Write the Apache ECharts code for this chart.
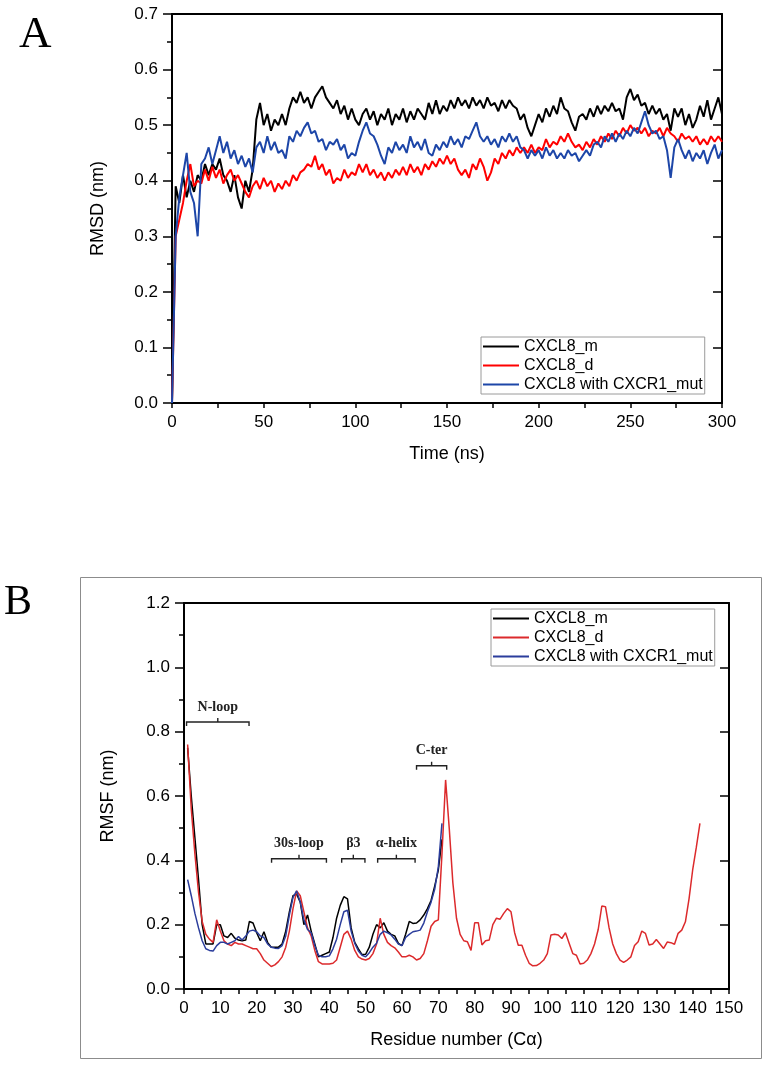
<!DOCTYPE html>
<html><head><meta charset="utf-8">
<script src="https://cdn.jsdelivr.net/npm/echarts@6/dist/echarts.min.js"></script>
<style>html,body{margin:0;padding:0;background:#fff}#chart{width:767px;height:1065px}</style>
</head><body><div id="chart"></div>
<script>
// ---------- Panel A: RMSD vs time (sampled every 2 ns) ----------
const timeNs = Array.from({length: 151}, (_, i) => i * 2);
const rmsdM = [0.00,0.39,0.36,0.41,0.37,0.40,0.38,0.41,0.40,0.43,
 0.41,0.43,0.42,0.44,0.41,0.40,0.38,0.41,0.37,0.35,
 0.40,0.38,0.42,0.51,0.54,0.50,0.52,0.49,0.51,0.50,
 0.52,0.50,0.53,0.55,0.54,0.56,0.54,0.55,0.53,0.55,
 0.56,0.57,0.55,0.54,0.53,0.545,0.52,0.535,0.51,0.53,
 0.51,0.50,0.52,0.53,0.51,0.525,0.50,0.52,0.51,0.53,
 0.50,0.52,0.51,0.53,0.505,0.525,0.51,0.53,0.52,0.51,
 0.54,0.52,0.545,0.52,0.535,0.525,0.545,0.53,0.55,0.535,
 0.545,0.53,0.55,0.535,0.545,0.53,0.55,0.535,0.54,0.525,
 0.545,0.53,0.545,0.535,0.53,0.51,0.52,0.495,0.48,0.50,
 0.52,0.505,0.53,0.515,0.535,0.52,0.55,0.53,0.525,0.505,
 0.49,0.515,0.52,0.51,0.53,0.515,0.535,0.52,0.535,0.525,
 0.54,0.525,0.53,0.51,0.55,0.565,0.545,0.555,0.535,0.54,
 0.52,0.535,0.52,0.53,0.51,0.52,0.49,0.53,0.515,0.53,
 0.50,0.52,0.495,0.51,0.535,0.515,0.545,0.51,0.53,0.55,
 0.52];
const rmsdD = [0.00,0.30,0.33,0.36,0.40,0.43,0.39,0.40,0.395,0.42,
 0.40,0.425,0.405,0.42,0.395,0.41,0.42,0.40,0.41,0.395,
 0.38,0.37,0.39,0.40,0.385,0.405,0.39,0.40,0.38,0.395,
 0.385,0.40,0.39,0.41,0.40,0.415,0.42,0.43,0.425,0.445,
 0.42,0.43,0.41,0.42,0.395,0.405,0.40,0.42,0.405,0.415,
 0.41,0.43,0.415,0.43,0.41,0.42,0.405,0.415,0.40,0.415,
 0.405,0.42,0.41,0.425,0.41,0.43,0.415,0.425,0.41,0.43,
 0.42,0.435,0.425,0.44,0.43,0.445,0.43,0.44,0.42,0.41,
 0.42,0.405,0.43,0.42,0.44,0.425,0.40,0.415,0.44,0.43,
 0.45,0.44,0.455,0.445,0.46,0.45,0.46,0.45,0.465,0.45,
 0.46,0.455,0.475,0.46,0.47,0.465,0.48,0.47,0.485,0.47,
 0.46,0.465,0.455,0.47,0.46,0.475,0.465,0.48,0.47,0.485,
 0.475,0.49,0.48,0.495,0.485,0.50,0.49,0.495,0.485,0.495,
 0.48,0.49,0.485,0.495,0.48,0.495,0.485,0.48,0.47,0.485,
 0.475,0.48,0.47,0.48,0.465,0.475,0.465,0.48,0.47,0.48,
 0.47];
const rmsdMut = [0.00,0.30,0.37,0.41,0.45,0.38,0.36,0.30,0.43,0.44,
 0.46,0.43,0.455,0.48,0.45,0.47,0.44,0.455,0.43,0.445,
 0.425,0.44,0.415,0.46,0.47,0.45,0.48,0.455,0.47,0.45,
 0.455,0.44,0.48,0.47,0.49,0.48,0.495,0.505,0.485,0.49,
 0.47,0.475,0.455,0.47,0.465,0.475,0.455,0.465,0.44,0.45,
 0.445,0.47,0.49,0.505,0.485,0.48,0.465,0.445,0.43,0.46,
 0.45,0.47,0.455,0.465,0.45,0.48,0.46,0.47,0.455,0.475,
 0.45,0.445,0.465,0.455,0.47,0.46,0.48,0.465,0.475,0.46,
 0.48,0.475,0.49,0.505,0.48,0.47,0.48,0.465,0.475,0.46,
 0.48,0.47,0.485,0.47,0.48,0.46,0.455,0.44,0.455,0.445,
 0.455,0.44,0.46,0.445,0.455,0.44,0.45,0.44,0.455,0.445,
 0.45,0.435,0.445,0.455,0.445,0.465,0.47,0.46,0.48,0.47,
 0.485,0.47,0.485,0.475,0.49,0.48,0.495,0.485,0.505,0.525,
 0.50,0.485,0.49,0.475,0.48,0.455,0.405,0.46,0.475,0.455,
 0.44,0.455,0.435,0.45,0.44,0.455,0.43,0.45,0.465,0.44,
 0.455];

// ---------- Panel B: RMSF per residue (residues start at 1) ----------
const rmsfM = [0.75,0.60,0.47,0.34,0.20,0.14,0.14,0.14,0.20,0.20,
 0.165,0.16,0.173,0.158,0.152,0.15,0.152,0.21,0.205,0.175,
 0.15,0.178,0.145,0.13,0.13,0.13,0.14,0.18,0.24,0.29,
 0.295,0.27,0.20,0.23,0.18,0.14,0.10,0.105,0.11,0.115,
 0.16,0.22,0.26,0.287,0.28,0.19,0.145,0.125,0.107,0.108,
 0.13,0.17,0.20,0.19,0.206,0.18,0.17,0.165,0.142,0.135,
 0.17,0.21,0.204,0.205,0.215,0.23,0.25,0.275,0.32,0.37,
 0.465];
const rmsfD = [0.76,0.56,0.42,0.30,0.21,0.17,0.155,0.145,0.215,0.18,
 0.15,0.14,0.135,0.145,0.14,0.14,0.135,0.13,0.125,0.125,
 0.11,0.09,0.08,0.07,0.075,0.085,0.10,0.13,0.18,0.25,
 0.305,0.29,0.24,0.19,0.165,0.12,0.085,0.078,0.078,0.078,
 0.08,0.09,0.13,0.17,0.18,0.155,0.12,0.10,0.093,0.09,
 0.095,0.11,0.14,0.22,0.17,0.145,0.135,0.128,0.115,0.10,
 0.10,0.105,0.10,0.09,0.095,0.11,0.15,0.195,0.21,0.215,
 0.42,0.65,0.50,0.33,0.22,0.17,0.15,0.147,0.12,0.206,
 0.206,0.137,0.15,0.152,0.20,0.22,0.217,0.235,0.25,0.24,
 0.175,0.136,0.136,0.105,0.08,0.072,0.073,0.08,0.09,0.11,
 0.168,0.17,0.168,0.157,0.175,0.142,0.11,0.105,0.078,0.08,
 0.09,0.11,0.14,0.185,0.258,0.256,0.19,0.14,0.11,0.09,
 0.083,0.09,0.10,0.135,0.147,0.18,0.173,0.137,0.14,0.154,
 0.14,0.126,0.146,0.144,0.139,0.173,0.183,0.209,0.28,0.37,
 0.44,0.515];
const rmsfMut = [0.34,0.29,0.235,0.19,0.15,0.125,0.12,0.118,0.135,0.145,
 0.145,0.14,0.145,0.15,0.163,0.152,0.165,0.18,0.183,0.178,
 0.165,0.16,0.14,0.13,0.127,0.126,0.135,0.165,0.23,0.285,
 0.305,0.27,0.215,0.185,0.175,0.135,0.105,0.10,0.10,0.103,
 0.125,0.155,0.20,0.24,0.245,0.18,0.142,0.118,0.105,0.10,
 0.113,0.13,0.142,0.17,0.18,0.175,0.168,0.155,0.14,0.135,
 0.16,0.17,0.178,0.18,0.183,0.205,0.24,0.27,0.31,0.38,
 0.515];

// Structural region brackets: [from residue, to residue, RMSF level]
const regionNames = ['N-loop', '30s-loop', '\u03b23', '\u03b1-helix', 'C-ter'];
const regionFrom  = [0.7, 24.1, 43.4, 53.3, 64.0];
const regionTo    = [17.9, 39.2, 49.8, 63.6, 72.3];
const regionLevel = [0.83, 0.405, 0.405, 0.405, 0.694];

const seriesNames = ['CXCL8_m', 'CXCL8_d', 'CXCL8 with CXCR1_mut'];
const colorsA = ['#000000', '#ff0000', '#1d46a8'];
const colorsB = ['#000000', '#dc2a2c', '#2b3d9c'];

const FONT = '"Liberation Sans", Arial, sans-serif';
const pairs = (xs, ys) => ys.map((v, i) => [xs[i], v]);
const resPairs = ys => ys.map((v, i) => [i + 1, v]);

function bottomAxis(gi, min, max, interval, name) {
  return {
    type: 'value', gridIndex: gi, position: 'bottom', min, max, interval,
    name, nameLocation: 'middle', nameGap: 42,
    nameTextStyle: {fontFamily: FONT, fontSize: 18, color: '#000'},
    axisLine: {show: true, onZero: false, lineStyle: {color: '#000', width: 2}},
    axisTick: {show: true, inside: false, length: 5, lineStyle: {color: '#000', width: 1.5}},
    minorTick: {show: true, splitNumber: 2, length: 5, lineStyle: {color: '#000', width: 1.5}},
    axisLabel: {fontFamily: FONT, fontSize: 17, color: '#000', margin: 11},
    splitLine: {show: false}
  };
}
function topAxis(gi, min, max) {
  return {
    type: 'value', gridIndex: gi, position: 'top', min, max,
    axisLine: {show: true, onZero: false, lineStyle: {color: '#000', width: 2}},
    axisTick: {show: false}, axisLabel: {show: false}, splitLine: {show: false}
  };
}
function leftAxis(gi, min, max, interval, name, gap, decimals) {
  return {
    type: 'value', gridIndex: gi, position: 'left', min, max, interval,
    name, nameLocation: 'middle', nameGap: gap, nameRotate: 90,
    nameTextStyle: {fontFamily: FONT, fontSize: 18, color: '#000'},
    axisLine: {show: true, onZero: false, lineStyle: {color: '#000', width: 2}},
    axisTick: {show: true, inside: false, length: 9, lineStyle: {color: '#000', width: 1.5}},
    minorTick: {show: true, splitNumber: 2, length: 5, lineStyle: {color: '#000', width: 1.5}},
    axisLabel: {fontFamily: FONT, fontSize: 17, color: '#000', margin: 14,
      formatter: v => v.toFixed(decimals)},
    splitLine: {show: false}
  };
}
function rightAxis(gi, min, max, interval) {
  return {
    type: 'value', gridIndex: gi, position: 'right', min, max, interval,
    axisLine: {show: true, onZero: false, lineStyle: {color: '#000', width: 2}},
    axisTick: {show: true, inside: true, length: 9, lineStyle: {color: '#000', width: 1.5}},
    axisLabel: {show: false}, splitLine: {show: false}
  };
}
function lineSeries(name, data, color, xi, yi, width) {
  return {
    type: 'line', name, data, xAxisIndex: xi, yAxisIndex: yi,
    showSymbol: false, symbol: 'none', smooth: false,
    lineStyle: {color, width}, itemStyle: {color}, z: 2
  };
}
function legendCfg(left, top, colors) {
  return {
    orient: 'vertical', left, top, itemWidth: 36, itemHeight: 2, itemGap: 0,
    icon: 'rect', padding: [0, 2, 0, 2], borderColor: '#9a9a9a', borderWidth: 1,
    backgroundColor: '#fff', selectedMode: false,
    textStyle: {fontFamily: FONT, fontSize: 16, color: '#000', lineHeight: 19},
    data: seriesNames.map((n, i) => ({name: n, itemStyle: {color: colors[i]}}))
  };
}

const option = {
  animation: false,
  backgroundColor: '#fff',
  grid: [
    {left: 172, top: 14, width: 550, height: 389, containLabel: false, outerBoundsMode: 'none'},
    {left: 184, top: 603, width: 545, height: 386, containLabel: false, outerBoundsMode: 'none'}
  ],
  xAxis: [
    bottomAxis(0, 0, 300, 50, 'Time (ns)'),
    topAxis(0, 0, 300),
    bottomAxis(1, 0, 150, 10, 'Residue number (C\u03b1)'),
    topAxis(1, 0, 150)
  ],
  yAxis: [
    leftAxis(0, 0, 0.7, 0.1, 'RMSD (nm)', 65, 1),
    rightAxis(0, 0, 0.7, 0.1),
    leftAxis(1, 0, 1.2, 0.2, 'RMSF (nm)', 67, 1),
    rightAxis(1, 0, 1.2, 0.2)
  ],
  legend: [legendCfg(481, 337, colorsA), legendCfg(491, 609, colorsB)],
  series: [
    lineSeries(seriesNames[0], pairs(timeNs, rmsdM), colorsA[0], 0, 0, 2),
    lineSeries(seriesNames[1], pairs(timeNs, rmsdD), colorsA[1], 0, 0, 2),
    lineSeries(seriesNames[2], pairs(timeNs, rmsdMut), colorsA[2], 0, 0, 2),
    lineSeries(seriesNames[0], resPairs(rmsfM), colorsB[0], 2, 2, 1.5),
    lineSeries(seriesNames[1], resPairs(rmsfD), colorsB[1], 2, 2, 1.5),
    lineSeries(seriesNames[2], resPairs(rmsfMut), colorsB[2], 2, 2, 1.5),
    {
      type: 'custom', name: 'regions', xAxisIndex: 2, yAxisIndex: 2, silent: true, z: 3,
      data: regionNames.map((n, i) => [regionFrom[i], regionTo[i], regionLevel[i]]),
      renderItem: (params, api) => {
        const p1 = api.coord([api.value(0), api.value(2)]);
        const p2 = api.coord([api.value(1), api.value(2)]);
        const mid = (p1[0] + p2[0]) / 2, y = p1[1];
        const st = {stroke: '#222', lineWidth: 1.4, fill: null};
        return {type: 'group', children: [
          {type: 'polyline', shape: {points: [[p1[0], y + 4], [p1[0], y], [p2[0], y], [p2[0], y + 4]]}, style: st},
          {type: 'line', shape: {x1: mid, y1: y, x2: mid, y2: y - 4}, style: st},
          {type: 'text', x: mid, y: y - 8, style: {text: regionNames[params.dataIndex],
            align: 'center', verticalAlign: 'bottom',
            font: 'bold 14px "Liberation Serif", "Times New Roman", serif', fill: '#222'}}
        ]};
      }
    }
  ],
  graphic: [
    {type: 'text', left: 19, top: 13, style: {text: 'A', font: '45px "Liberation Serif", "Times New Roman", serif', fill: '#000'}},
    {type: 'text', left: 4, top: 582, style: {text: 'B', font: '42px "Liberation Serif", "Times New Roman", serif', fill: '#000'}},
    {type: 'rect', shape: {x: 80.5, y: 577.5, width: 681, height: 481}, style: {fill: null, stroke: '#8c8c8c', lineWidth: 1}, z: -10}
  ]
};
const chart = echarts.init(document.getElementById('chart'), null, {renderer: 'canvas'});
chart.setOption(option);
</script></body></html>
